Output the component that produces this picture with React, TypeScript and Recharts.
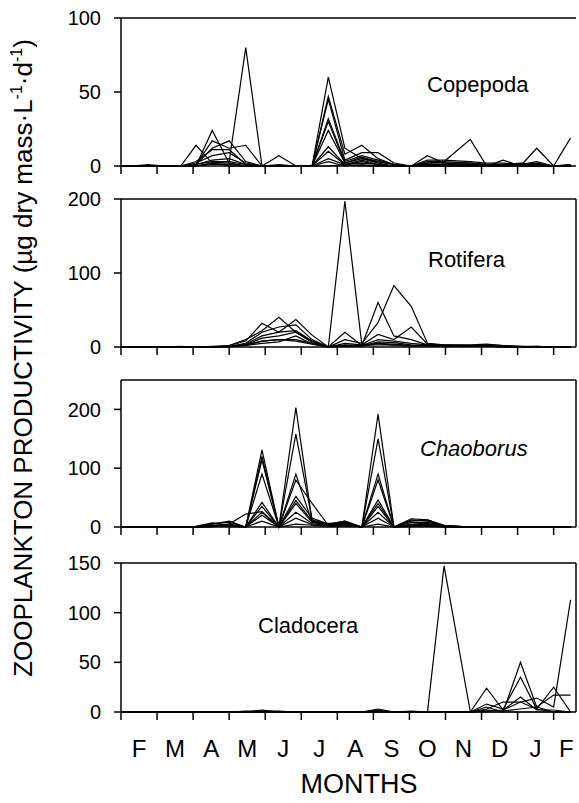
import { LineChart, Line, XAxis, YAxis, ReferenceLine } from 'recharts';

// sampling dates, in months from the start of February
const MONTH_TIME = [0, 0.3, 0.75, 1.2, 1.66, 2.08, 2.53, 3.0, 3.46, 3.91, 4.38, 4.85, 5.3, 5.75, 6.21, 6.68, 7.13, 7.57, 8.05, 8.5, 8.96, 9.69, 10.14, 10.6, 11.08, 11.53, 12.0, 12.47];
const MONTH_TICKS = [0, 1, 2, 3, 4, 5, 6, 7, 8, 9, 10, 11, 12];
const MONTH_LABEL_POS = [0.5, 1.5, 2.5, 3.5, 4.5, 5.5, 6.5, 7.5, 8.5, 9.5, 10.5, 11.5, 12.35];
const MONTH_LABELS = ['F', 'M', 'A', 'M', 'J', 'J', 'A', 'S', 'O', 'N', 'D', 'J', 'F'];
const X_MAX = 12.62;

const COPEPODA = [
  [0, 0, 1, 0, 0, 0, 2, 3, 80, 0, 0, 0, 0, 0, 1, 0, 0, 0, 0, 0, 0, 0, 0, 0, 0, 0, 0, 0],
  [0, 0, 0, 0, 0, 14, 2, 0, 0, 0, 7, 0, 0, 60, 12, 5, 3, 1, 0, 3, 3, 18, 0, 4, 0, 12, 0, 19],
  [0, 0, 0, 0, 0, 0, 24, 2, 0, 0, 1, 0, 0, 47, 8, 14, 5, 1, 0, 7, 2, 2, 1, 1, 1, 3, 0, 1],
  [0, 0, 0, 0, 0, 1, 17, 12, 14, 0, 0, 0, 0, 45, 4, 9, 9, 2, 0, 4, 4, 3, 2, 2, 1, 2, 0, 1],
  [0, 0, 0, 0, 0, 1, 12, 17, 3, 0, 0, 0, 0, 32, 3, 7, 4, 1, 0, 2, 3, 2, 1, 1, 2, 1, 0, 0],
  [0, 0, 0, 0, 0, 3, 11, 11, 1, 0, 0, 0, 0, 30, 2, 6, 3, 1, 0, 2, 2, 1, 1, 1, 1, 1, 0, 0],
  [0, 0, 0, 0, 0, 2, 7, 9, 2, 0, 0, 0, 0, 24, 2, 5, 2, 0, 0, 1, 1, 1, 0, 1, 1, 1, 0, 0],
  [0, 0, 0, 0, 0, 1, 4, 5, 1, 0, 0, 0, 0, 13, 1, 4, 1, 0, 0, 1, 1, 1, 0, 0, 0, 0, 0, 0],
  [0, 0, 0, 0, 0, 1, 3, 3, 1, 0, 0, 0, 0, 10, 1, 3, 1, 0, 0, 1, 0, 0, 0, 0, 0, 0, 0, 0],
  [0, 0, 0, 0, 0, 0, 2, 2, 0, 0, 0, 0, 0, 5, 1, 2, 1, 0, 0, 0, 0, 0, 0, 0, 0, 0, 0, 0],
  [0, 0, 0, 0, 0, 0, 1, 1, 0, 0, 0, 0, 0, 3, 0, 1, 0, 0, 0, 0, 0, 0, 0, 0, 0, 0, 0, 0],
];

const ROTIFERA = [
  [0, 0, 0, 0, 0, 0, 0, 1, 3, 8, 10, 8, 4, 0, 197, 3, 5, 2, 1, 2, 1, 1, 1, 0, 0, 0, 0, 0],
  [0, 0, 0, 0, 0, 0, 1, 2, 8, 32, 20, 37, 16, 0, 20, 2, 60, 15, 10, 3, 2, 2, 2, 1, 0, 0, 0, 0],
  [0, 0, 0, 0, 0, 0, 0, 2, 10, 22, 40, 20, 8, 0, 10, 5, 33, 83, 55, 5, 3, 3, 4, 2, 1, 0, 0, 0],
  [0, 0, 0, 0, 1, 0, 0, 1, 5, 20, 27, 30, 10, 0, 5, 3, 17, 10, 27, 4, 3, 2, 3, 2, 1, 1, 0, 0],
  [0, 0, 0, 0, 0, 0, 0, 1, 4, 15, 20, 22, 8, 0, 3, 2, 10, 8, 5, 3, 2, 2, 2, 1, 0, 0, 0, 0],
  [0, 0, 0, 0, 0, 0, 0, 0, 3, 12, 15, 20, 6, 0, 2, 1, 7, 6, 3, 2, 2, 1, 1, 1, 0, 0, 0, 0],
  [0, 0, 0, 0, 0, 0, 0, 0, 2, 8, 10, 10, 5, 0, 1, 1, 5, 4, 2, 2, 1, 1, 1, 0, 0, 0, 0, 0],
  [0, 0, 0, 0, 0, 0, 0, 1, 2, 5, 7, 15, 4, 0, 1, 2, 3, 3, 2, 1, 1, 1, 1, 0, 0, 1, 0, 0],
];

const CHAOBORUS = [
  [0, 0, 0, 0, 0, 0, 3, 2, 0, 131, 0, 203, 10, 5, 8, 0, 192, 0, 14, 12, 3, 0, 0, 0, 0, 0, 0, 0],
  [0, 0, 0, 0, 0, 1, 6, 8, 0, 114, 0, 158, 12, 4, 10, 0, 150, 0, 12, 10, 3, 0, 0, 0, 0, 0, 0, 0],
  [0, 0, 0, 0, 0, 1, 7, 3, 0, 120, 0, 90, 8, 6, 6, 0, 90, 0, 10, 12, 2, 0, 0, 0, 0, 0, 0, 0],
  [0, 0, 0, 0, 0, 0, 5, 10, 0, 90, 0, 80, 40, 3, 5, 0, 80, 0, 8, 8, 2, 0, 0, 0, 0, 0, 0, 0],
  [0, 0, 0, 0, 0, 0, 3, 5, 0, 42, 0, 52, 15, 5, 10, 0, 46, 0, 5, 6, 1, 0, 0, 0, 0, 0, 0, 0],
  [0, 0, 0, 0, 0, 0, 2, 4, 0, 35, 0, 45, 10, 3, 8, 0, 40, 0, 4, 5, 1, 0, 0, 0, 0, 0, 0, 0],
  [0, 0, 0, 0, 0, 0, 2, 3, 0, 25, 0, 40, 8, 2, 6, 0, 35, 0, 3, 4, 1, 0, 0, 0, 0, 0, 0, 0],
  [0, 0, 0, 0, 0, 0, 1, 2, 0, 20, 0, 25, 6, 2, 5, 0, 25, 0, 2, 3, 0, 0, 0, 0, 0, 0, 0, 0],
  [0, 0, 0, 0, 0, 0, 1, 1, 0, 10, 0, 15, 4, 1, 3, 0, 15, 0, 1, 2, 0, 0, 0, 0, 0, 0, 0, 0],
  [0, 0, 0, 0, 0, 0, 0, 5, 22, 26, 0, 5, 3, 1, 2, 0, 5, 0, 1, 1, 0, 0, 0, 0, 0, 0, 0, 0],
];

const CLADOCERA = [
  [0, 0, 0, 0, 0, 0, 0, 0, 0, 2, 0, 0, 0, 0, 0, 0, 3, 0, 1, 0, 147, 0, 0, 0, 0, 0, 0, 0],
  [0, 0, 0, 0, 0, 0, 0, 0, 1, 1, 1, 0, 0, 0, 0, 0, 1, 0, 0, 0, 0, 0, 24, 2, 10, 3, 0, 0],
  [0, 0, 0, 0, 0, 0, 0, 0, 0, 1, 0, 0, 0, 0, 0, 0, 2, 0, 0, 0, 0, 0, 5, 0, 50, 5, 0, 0],
  [0, 0, 0, 0, 0, 0, 0, 0, 0, 0, 0, 0, 0, 0, 0, 0, 1, 0, 0, 0, 0, 0, 8, 3, 35, 3, 25, 0],
  [0, 0, 0, 0, 0, 0, 0, 0, 0, 0, 0, 0, 0, 0, 0, 0, 0, 0, 0, 0, 0, 0, 3, 10, 10, 14, 5, 113],
  [0, 0, 0, 0, 0, 0, 0, 0, 0, 0, 0, 0, 0, 0, 0, 0, 0, 0, 0, 0, 0, 0, 2, 1, 3, 5, 17, 17],
  [0, 0, 0, 0, 0, 0, 0, 0, 0, 0, 0, 0, 0, 0, 0, 0, 0, 0, 0, 0, 0, 0, 1, 2, 15, 2, 2, 0],
];

const FONT = '"Liberation Sans", Arial, Helvetica, sans-serif';

function toRows(series: number[][]) {
  return MONTH_TIME.map((t, i) => {
    const row: Record<string, number> = { t };
    series.forEach((s, k) => {
      row['s' + k] = s[i];
    });
    return row;
  });
}

interface PanelProps {
  series: number[][];
  max: number;
  ticks: number[];
  top: number;
  plotHeight: number;
  rightBorder?: boolean;
  months?: boolean;
}

function Panel({ series, max, ticks, top, plotHeight, rightBorder = true, months = false }: PanelProps) {
  const rows = toRows(series);
  const padTop = 16;
  const axisH = 12;
  const labelH = months ? 50 : 0;
  return (
    <div style={{ position: 'absolute', left: 0, top: top - padTop }}>
      <LineChart
        width={579}
        height={padTop + plotHeight + axisH + labelH}
        data={rows}
        margin={{ top: padTop, right: 3, bottom: 0, left: 0 }}
      >
        <XAxis
          xAxisId={0}
          dataKey="t"
          type="number"
          domain={[0, X_MAX]}
          ticks={MONTH_TICKS}
          interval={0}
          tickFormatter={() => ''}
          tickSize={8}
          height={axisH}
          axisLine={{ stroke: '#000', strokeWidth: 1.5 }}
          tickLine={{ stroke: '#000', strokeWidth: 1.5 }}
        />
        {months && (
          <XAxis
            xAxisId={1}
            dataKey="t"
            type="number"
            domain={[0, X_MAX]}
            ticks={MONTH_LABEL_POS}
            interval={0}
            tickFormatter={(v: number) => MONTH_LABELS[MONTH_LABEL_POS.indexOf(v)] ?? ''}
            axisLine={false}
            tickLine={false}
            tickSize={0}
            tickMargin={16}
            height={labelH}
            tick={{ fontSize: 24, fill: '#000', fontFamily: FONT }}
          />
        )}
        <YAxis
          domain={[0, max]}
          ticks={ticks}
          interval={0}
          width={121}
          tickSize={7}
          tickMargin={13}
          axisLine={{ stroke: '#000', strokeWidth: 1.5 }}
          tickLine={{ stroke: '#000', strokeWidth: 1.5 }}
          tick={{ fontSize: 20, fill: '#000', fontFamily: FONT }}
        />
        <ReferenceLine y={max} stroke="#000" strokeWidth={1.5} />
        {rightBorder && <ReferenceLine x={X_MAX} stroke="#000" strokeWidth={1.5} />}
        {series.map((_, k) => (
          <Line
            key={k}
            dataKey={'s' + k}
            stroke="#000"
            strokeWidth={1.2}
            dot={false}
            type="linear"
            isAnimationActive={false}
          />
        ))}
      </LineChart>
    </div>
  );
}

export default function App() {
  return (
    <div style={{ position: 'absolute', left: 0, top: 0, width: 579, height: 803, background: '#fff', fontFamily: FONT }}>
      <Panel series={COPEPODA} max={100} ticks={[0, 50, 100]} top={18} plotHeight={148} rightBorder={false} />
      <Panel series={ROTIFERA} max={200} ticks={[0, 100, 200]} top={199} plotHeight={148} />
      <Panel series={CHAOBORUS} max={250} ticks={[0, 100, 200]} top={380} plotHeight={147} />
      <Panel series={CLADOCERA} max={150} ticks={[0, 50, 100, 150]} top={563} plotHeight={149} months />
      <svg width={579} height={803} style={{ position: 'absolute', left: 0, top: 0, pointerEvents: 'none' }} fontFamily={FONT}>
        <text x={427} y={92} fontSize={22}>Copepoda</text>
        <text x={428} y={267} fontSize={22}>Rotifera</text>
        <text x={420} y={456} fontSize={22} fontStyle="italic">Chaoborus</text>
        <text x={258} y={633} fontSize={22}>Cladocera</text>
        <text x={359} y={793} fontSize={27} textAnchor="middle">MONTHS</text>
        <text transform="translate(32, 358) rotate(-90)" fontSize={26} textAnchor="middle">
          ZOOPLANKTON PRODUCTIVITY (µg dry mass·L
          <tspan fontSize={16} dy={-10}>-1</tspan>
          <tspan dy={10}>·d</tspan>
          <tspan fontSize={16} dy={-10}>-1</tspan>
          <tspan dy={10}>)</tspan>
        </text>
      </svg>
    </div>
  );
}
